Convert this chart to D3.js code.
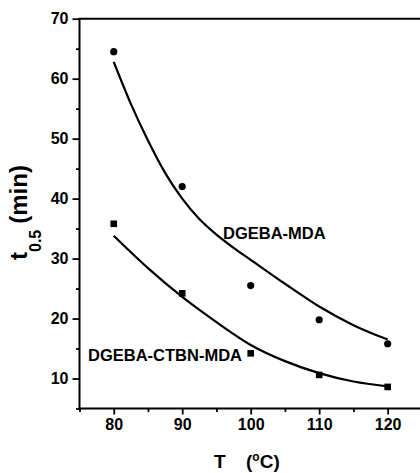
<!DOCTYPE html>
<html>
<head>
<meta charset="utf-8">
<script src="https://cdn.jsdelivr.net/npm/d3@7"></script>
<style>
  html, body { margin: 0; padding: 0; background: #fff; }
  svg { display: block; }
  text { font-family: "Liberation Sans", Arial, Helvetica, sans-serif; font-weight: bold; fill: #000; }
</style>
</head>
<body>
<svg id="chart" width="420" height="473"></svg>
<script>
// Half-time of cure versus temperature, two resin systems
const temps = [80, 90, 100, 110, 120];
const neatValues = [64.5, 42.0, 25.5, 19.8, 15.8];      // DGEBA-MDA (circles)
const rubberValues = [35.8, 24.2, 14.2, 10.6, 8.6];     // DGEBA-CTBN-MDA (squares)

// Fitted trend lines, sampled along the temperature axis
const fitTempsNeat = [80, 82.5, 85, 87.5, 90, 92.5, 95, 97.5, 100, 105, 110, 115, 120];
const fitNeat = [62.8, 55.8, 49.7, 44.3, 40.0, 36.6, 34.0, 31.8, 29.8, 25.8, 22.0, 18.9, 16.5];
const fitTempsRubber = [80, 85, 90, 95, 100, 105, 110, 115, 120];
const fitRubber = [33.8, 28.4, 23.6, 19.4, 15.6, 12.9, 10.9, 9.5, 8.7];

const xMajor = [80, 90, 100, 110, 120];
const xMinor = [75, 85, 95, 105, 115, 125];
const yMajor = [10, 20, 30, 40, 50, 60, 70];
const yMinor = [5, 15, 25, 35, 45, 55, 65];

const svg = d3.select("#chart");

const x = d3.scaleLinear().domain([75, 125]).range([79.5, 421.9]);
const y = d3.scaleLinear().domain([5, 70]).range([408.5, 18.7]);

// Axes
const axisStroke = 2;
const gx = svg.append("g").attr("transform", `translate(0,${y(5)})`);
gx.call(d3.axisBottom(x).tickValues(xMajor).tickSize(6).tickPadding(4).tickFormat(d3.format("d")));
const gxMinor = svg.append("g").attr("transform", `translate(0,${y(5)})`);
gxMinor.call(d3.axisBottom(x).tickValues(xMinor).tickSize(3.5).tickFormat(""));
gxMinor.select(".domain").remove();

const gy = svg.append("g").attr("transform", `translate(${x(75)},0)`);
gy.call(d3.axisLeft(y).tickValues(yMajor).tickSize(7).tickPadding(4).tickFormat(d3.format("d")));
const gyMinor = svg.append("g").attr("transform", `translate(${x(75)},0)`);
gyMinor.call(d3.axisLeft(y).tickValues(yMinor).tickSize(3.5).tickFormat(""));
gyMinor.select(".domain").remove();

[gx, gy].forEach(g => {
  g.select(".domain").attr("stroke", "#000").attr("stroke-width", axisStroke);
});
// plain axis lines without end caps
gx.select(".domain").attr("d", `M${x(75) - 1},0H${x(125)}`);
gy.select(".domain").attr("d", `M0,${y(70)}V${y(5) + 1}`);

svg.selectAll(".tick line").attr("stroke", "#000").attr("stroke-width", 1.8);
svg.selectAll(".tick text").style("font-size", "16px").style("font-family", null);
gx.selectAll(".tick text").attr("dy", "0.72em");

// Top frame line
svg.append("line")
  .attr("x1", x(75) - 1).attr("x2", x(125))
  .attr("y1", y(70)).attr("y2", y(70))
  .attr("stroke", "#000").attr("stroke-width", axisStroke);

// Trend lines
const line = d3.line().curve(d3.curveMonotoneX).x(d => x(d[0])).y(d => y(d[1]));
svg.append("path")
  .datum(d3.zip(fitTempsNeat, fitNeat))
  .attr("d", line).attr("fill", "none").attr("stroke", "#000").attr("stroke-width", 2.2);
svg.append("path")
  .datum(d3.zip(fitTempsRubber, fitRubber))
  .attr("d", line).attr("fill", "none").attr("stroke", "#000").attr("stroke-width", 2.2);

// Data markers
svg.selectAll("circle.neat")
  .data(d3.zip(temps, neatValues))
  .join("circle").attr("class", "neat")
  .attr("cx", d => x(d[0])).attr("cy", d => y(d[1])).attr("r", 3.6).attr("fill", "#000");

const sq = 6.6;
svg.selectAll("rect.rubber")
  .data(d3.zip(temps, rubberValues))
  .join("rect").attr("class", "rubber")
  .attr("x", d => x(d[0]) - sq / 2).attr("y", d => y(d[1]) - sq / 2)
  .attr("width", sq).attr("height", sq).attr("fill", "#000");

// Series labels
svg.append("text").attr("x", 223).attr("y", 239).style("font-size", "16.5px").text("DGEBA-MDA");
svg.append("text").attr("x", 88).attr("y", 361).style("font-size", "16.5px").text("DGEBA-CTBN-MDA");

// Y axis title: t_0.5 (min)
const yt = svg.append("text")
  .attr("transform", "translate(27,260) rotate(-90)")
  .style("font-size", "24px");
yt.append("tspan").text("t");
yt.append("tspan").attr("dy", 14).style("font-size", "16px").text("0.5");
yt.append("tspan").attr("dy", -14).attr("dx", 6).text("(min)");

// X axis title: T (oC)
const xt = svg.append("text").attr("y", 467.5).style("font-size", "19px");
xt.append("tspan").attr("x", 214).text("T");
xt.append("tspan").attr("x", 246).text("(");
xt.append("tspan").attr("dy", -7).style("font-size", "12px").text("o");
xt.append("tspan").attr("dy", 7).text("C)");
</script>
</body>
</html>
